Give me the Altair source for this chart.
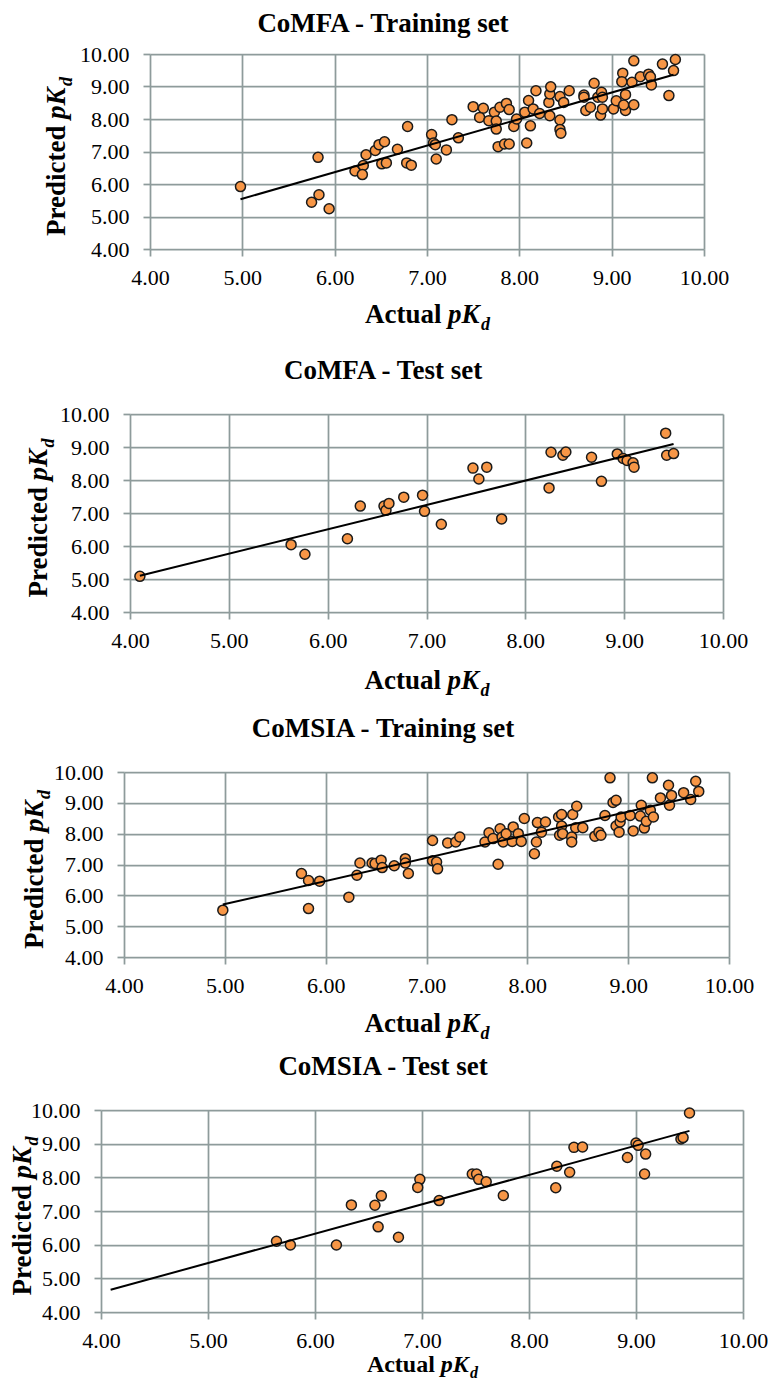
import altair as alt
import pandas as pd

# ---------------- data ----------------
axis_ticks = [4, 5, 6, 7, 8, 9, 10]
panel_titles = ["CoMFA - Training set", "CoMFA - Test set",
                "CoMSIA - Training set", "CoMSIA - Test set"]
x_title_parts = ["Actual", "pK", "d"]
y_title_parts = ["Predicted", "pK", "d"]

comfa_train_actual = [
    4.98, 5.82, 5.83, 5.75, 5.94, 6.22, 6.31, 6.30, 6.34, 6.44, 6.48, 6.54, 6.51, 6.56,
    6.68, 6.79, 6.78, 6.83, 7.05, 7.07, 7.09, 7.10, 7.21, 7.27, 7.34,
    7.50, 7.61, 7.57, 7.67, 7.73, 7.75, 7.75, 7.79, 7.86, 7.89, 7.77, 7.84, 7.89, 7.94,
    7.97, 8.06, 8.10, 8.12, 8.08, 8.15, 8.18, 8.22, 8.32, 8.33, 8.34, 8.33, 8.44, 8.48,
    8.44, 8.44, 8.45, 8.54, 8.70, 8.70, 8.72, 8.77, 8.81, 8.85, 8.89, 8.90, 8.88, 8.90,
    9.02, 9.05, 9.12, 9.11, 9.15, 9.15, 9.13, 9.24, 9.22, 9.24, 9.31, 9.40, 9.42, 9.43,
    9.55, 9.69, 9.67, 9.62]
comfa_train_pred = [
    5.92, 6.82, 5.67, 5.44, 5.24, 6.40, 6.57, 6.29, 6.90, 7.03, 7.21, 7.30, 6.62, 6.65,
    7.07, 7.77, 6.65, 6.58, 7.52, 7.26, 7.21, 6.77, 7.05, 7.98, 7.42,
    8.38, 8.33, 8.05, 7.95, 8.21, 7.94, 7.69, 8.36, 8.48, 8.29, 7.15, 7.23, 7.23, 7.77,
    8.00, 8.21, 8.57, 7.79, 7.26, 8.31, 8.87, 8.17, 8.51, 8.77, 8.99, 8.10, 8.69, 8.51,
    7.97, 7.68, 7.56, 8.87, 8.74, 8.67, 8.26, 8.36, 9.10, 8.67, 8.82, 8.67, 8.12, 8.31,
    8.31, 8.56, 9.41, 9.15, 8.75, 8.26, 8.43, 9.79, 9.13, 8.44, 9.30, 9.38, 9.30, 9.05,
    9.69, 9.83, 9.49, 8.72]
comfa_train_trend_x = [4.98, 9.67]
comfa_train_trend_y = [5.53, 9.36]

comfa_test_actual = [
    4.10, 5.63, 5.77, 6.20, 6.33, 6.57, 6.59, 6.62, 6.77, 6.96, 6.98, 7.15, 7.47, 7.53,
    7.61, 7.76, 8.24, 8.26, 8.38, 8.41, 8.67, 8.77, 8.93, 8.99, 9.03, 9.09, 9.10, 9.42,
    9.43, 9.50]
comfa_test_pred = [
    5.08, 6.04, 5.75, 6.22, 7.21, 7.21, 7.08, 7.29, 7.48, 7.54, 7.05, 6.66, 8.36, 8.03,
    8.39, 6.82, 7.76, 8.84, 8.75, 8.85, 8.69, 7.96, 8.79, 8.65, 8.59, 8.52, 8.39, 9.42,
    8.75, 8.80]
comfa_test_trend_x = [4.10, 9.50]
comfa_test_trend_y = [5.10, 9.09]

comsia_train_actual = [
    4.98, 5.76, 5.83, 5.83, 5.94, 6.23, 6.31, 6.34, 6.46, 6.49, 6.55, 6.56, 6.68, 6.79,
    6.79, 6.82, 7.06, 7.06, 7.10, 7.11, 7.21, 7.29, 7.33,
    7.58, 7.62, 7.66, 7.71, 7.73, 7.75, 7.76, 7.79, 7.85, 7.86, 7.91, 7.94, 7.97, 8.07,
    8.09, 8.10, 8.14, 8.18, 8.31, 8.32, 8.34, 8.34, 8.35, 8.44, 8.44, 8.45, 8.49, 8.48,
    8.55, 8.67, 8.71, 8.73, 8.77, 8.82, 8.85, 8.88, 8.88, 8.91, 8.92, 8.93, 9.02, 9.05,
    9.12, 9.13, 9.16, 9.18, 9.22, 9.25, 9.24, 9.32, 9.40, 9.41, 9.43, 9.55, 9.62, 9.67,
    9.70]
comsia_train_pred = [
    5.52, 6.71, 6.48, 5.57, 6.46, 5.94, 6.65, 7.05, 7.05, 7.03, 7.14, 6.90, 6.96, 7.19,
    7.05, 6.71, 7.78, 7.12, 7.08, 6.86, 7.70, 7.73, 7.89,
    7.73, 8.03, 7.84, 7.01, 8.16, 7.89, 7.73, 8.00, 7.75, 8.22, 8.00, 7.75, 8.49, 7.35,
    7.73, 8.36, 8.05, 8.38, 8.54, 7.95, 8.25, 8.62, 8.00, 7.89, 7.73, 8.62, 8.89, 8.19,
    8.19, 7.92, 8.05, 7.95, 8.59, 9.81, 9.01, 9.08, 8.25, 8.05, 8.38, 8.54, 8.59, 8.09,
    8.57, 8.92, 8.18, 8.40, 8.76, 8.54, 9.81, 9.16, 9.57, 8.92, 9.24, 9.33, 9.11, 9.70,
    9.37]
comsia_train_trend_x = [4.98, 9.70]
comsia_train_trend_y = [5.70, 9.24]

comsia_test_actual = [
    5.64, 5.77, 6.20, 6.34, 6.56, 6.62, 6.59, 6.78, 6.98, 6.96, 7.16, 7.47, 7.51, 7.53,
    7.60, 7.76, 8.25, 8.26, 8.38, 8.42, 8.50, 8.92, 9.00, 9.02, 9.09, 9.08, 9.42, 9.44,
    9.50]
comsia_test_pred = [
    6.10, 5.99, 5.99, 7.18, 7.17, 7.45, 6.53, 6.22, 7.94, 7.70, 7.31, 8.10, 8.10, 7.94,
    7.87, 7.46, 7.69, 8.33, 8.15, 8.89, 8.90, 8.59, 9.02, 8.95, 8.69, 8.10, 9.14, 9.18,
    9.91]
comsia_test_trend_x = [4.09, 9.50]
comsia_test_trend_y = [4.66, 9.38]

# ---------------- styling / layout ----------------
FONT = "Liberation Serif"
ORANGE = "#F79646"
EDGE = "#1A1A1A"
GRID = "#8E9B9B"
TITLE_CENTER_X = 383.0

# L/T = plot-area left/top on the page, s = spacer width, e = left extent of panel
layouts = [
    dict(L=150, T=53.3, W=554.0, H=195.0, top=8.0, bottom=340.0, s=32, e=110,
         yt=85.0, tdy=-22.5, xb=74.0, xfs=27),
    dict(L=130, T=412.7, W=593.0, H=198.0, top=340.0, bottom=700.0, s=12, e=110,
         yt=83.0, tdy=-35.0, xb=77.0, xfs=27),
    dict(L=124, T=770.0, W=605.0, H=185.0, top=700.0, bottom=1045.0, s=6, e=110,
         yt=81.0, tdy=-35.0, xb=75.0, xfs=27),
    dict(L=101, T=1108.0, W=642.0, H=202.0, top=1045.0, bottom=1380.0, s=1, e=92,
         yt=70.0, tdy=-35.0, xb=59.5, xfs=24),
]


def text_layer(s, x, y, size=27, style="normal", angle=0, align="left"):
    mk = dict(font=FONT, fontSize=size, fontWeight="bold", fontStyle=style,
              align=align, baseline="alphabetic", color="#000000")
    if angle:
        mk["angle"] = angle
    return alt.Chart(pd.DataFrame({"label": [s]})).mark_text(**mk).encode(
        x=alt.value(x), y=alt.value(y), text="label:N")


def make_panel(actual, pred, tx, ty, title, lay):
    L, T, W, H = lay["L"], lay["T"], lay["W"], lay["H"]
    xsc = alt.Scale(domain=[4, 10], nice=False, zero=False)
    ysc = alt.Scale(domain=[4, 10], nice=False, zero=False)
    common = dict(values=axis_ticks, tickCount=len(axis_ticks), format=".2f", title=None,
                  labelFont=FONT, labelFontSize=22, labelColor="#000000",
                  labelOverlap=False)
    xaxis = alt.Axis(labelFlush=False, labelPadding=11, **common)
    yaxis = alt.Axis(labelPadding=14, **common)
    pts = alt.Chart(pd.DataFrame({"actual": actual, "pred": pred})).mark_circle(
        size=100, color=ORANGE, opacity=1, stroke=EDGE, strokeWidth=1.5
    ).encode(x=alt.X("actual:Q", scale=xsc, axis=xaxis),
             y=alt.Y("pred:Q", scale=ysc, axis=yaxis))
    trend = alt.Chart(pd.DataFrame({"actual": tx, "pred": ty})).mark_line(
        color="#000000", strokeWidth=2
    ).encode(x=alt.X("actual:Q", scale=xsc), y=alt.Y("pred:Q", scale=ysc))

    texts = [text_layer(title, TITLE_CENTER_X - L, lay["tdy"], align="center")]
    # x axis title: Actual pK_d
    f = lay["xfs"] / 27.0
    cx, xb = W / 2.0, H + lay["xb"]
    texts += [
        text_layer(x_title_parts[0], cx + 14.5 * f, xb, size=lay["xfs"], align="right"),
        text_layer(x_title_parts[1], cx + 21.0 * f, xb, size=lay["xfs"], style="italic"),
        text_layer(x_title_parts[2], cx + 54.0 * f, xb + 7.0 * f, size=round(18 * f),
                   style="italic"),
    ]
    # y axis title: Predicted pK_d (rotated)
    cy, yx = H / 2.0, -lay["yt"]
    texts += [
        text_layer(y_title_parts[0], yx, cy - 26.0, angle=270, align="right"),
        text_layer(y_title_parts[1], yx, cy - 32.5, style="italic", angle=270),
        text_layer(y_title_parts[2], yx + 7.0, cy - 65.5, size=18, style="italic", angle=270),
    ]
    # invisible frame fixing this panel's cell on the page
    frame = alt.Chart(pd.DataFrame({"f": [0]})).mark_rule(
        strokeOpacity=0, strokeWidth=1
    ).encode(x=alt.value(-lay["e"]), x2=alt.value(-lay["e"]),
             y=alt.value(-(T - lay["top"])), y2=alt.value(lay["bottom"] - T))
    panel = alt.layer(pts, trend, *texts, frame).properties(width=W, height=H)
    spacer = alt.Chart(pd.DataFrame({"f": [0]})).mark_rule(strokeOpacity=0).encode(
        x=alt.value(0), y=alt.value(0), y2=alt.value(1)
    ).properties(width=lay["s"], height=1)
    return alt.hconcat(spacer, panel, spacing=0)


rows = [
    make_panel(comfa_train_actual, comfa_train_pred, comfa_train_trend_x, comfa_train_trend_y,
               panel_titles[0], layouts[0]),
    make_panel(comfa_test_actual, comfa_test_pred, comfa_test_trend_x, comfa_test_trend_y,
               panel_titles[1], layouts[1]),
    make_panel(comsia_train_actual, comsia_train_pred, comsia_train_trend_x, comsia_train_trend_y,
               panel_titles[2], layouts[2]),
    make_panel(comsia_test_actual, comsia_test_pred, comsia_test_trend_x, comsia_test_trend_y,
               panel_titles[3], layouts[3]),
]

chart = alt.vconcat(*rows, spacing=0, padding=0).properties(
    background="white"
).configure_view(stroke=None).configure_axis(
    labelFont=FONT, labelFontSize=22, labelColor="#000000",
    gridColor=GRID, gridWidth=1.75, gridOpacity=1,
    tickColor=GRID, tickWidth=1.75, tickSize=7,
    domain=False, grid=True, labelOverlap=False,
)

chart.save("out.html", embed_options={"renderer": "svg", "actions": False})
